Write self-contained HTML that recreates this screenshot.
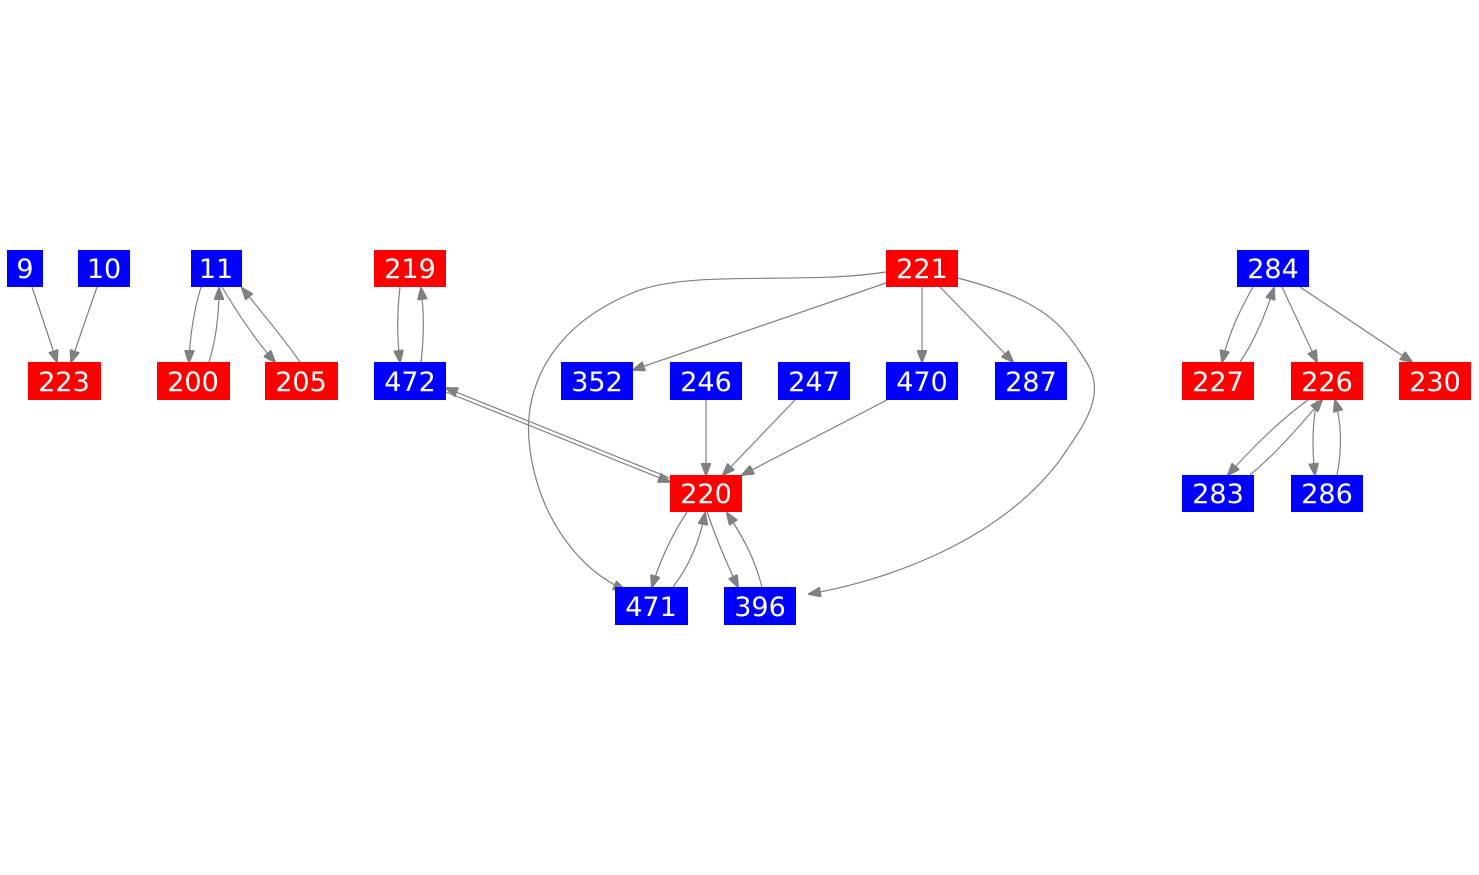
<!DOCTYPE html>
<html><head><style>
html,body{margin:0;padding:0;background:#fff;}
svg{display:block;}
text{font-family:"DejaVu Sans",sans-serif;font-size:27px;fill:#fff;text-anchor:middle;}
path{fill:none;stroke:#808080;stroke-width:1.2;}
</style></head><body>
<svg width="1479" height="875" viewBox="0 0 1479 875">
<defs><marker id="a" markerWidth="13" markerHeight="10" refX="12" refY="5" orient="auto" markerUnits="userSpaceOnUse"><path d="M0,0 L13,5 L0,10 z" style="fill:#808080;stroke:#808080"/></marker></defs>
<g marker-end="url(#a)">
<path d="M32,287 L57,362"/>
<path d="M97,287 L71,362"/>
<path d="M201,287 C194,310 190,335 189,362"/>
<path d="M209,362 C216,340 219,315 219,288"/>
<path d="M222,287 C237,312 255,340 275,362"/>
<path d="M300,362 C285,340 260,310 242,288"/>
<path d="M400,287 C397,312 397,338 400,362"/>
<path d="M421,362 C424,338 424,312 421,288"/>
<path d="M446,392 L670,482"/>
<path d="M670,478 L446,388"/>
<path d="M886,283 L633,370"/>
<path d="M886,272 C800,285 700,270 640,290 C560,320 520,380 530,450 C540,520 580,570 625,590"/>
<path d="M958,278 C1040,300 1060,320 1085,360 C1110,395 1080,430 1060,460 C1000,540 890,580 809,594"/>
<path d="M922,287 L922,362"/>
<path d="M940,287 L1013,362"/>
<path d="M706,400 L706,475"/>
<path d="M795,400 L723,475"/>
<path d="M887,400 L742,475"/>
<path d="M687,512 C672,535 660,560 652,587"/>
<path d="M673,587 C690,565 700,540 705,513"/>
<path d="M707,512 C715,535 725,560 738,587"/>
<path d="M762,587 C755,560 745,540 727,513"/>
<path d="M1253,287 C1240,310 1230,330 1222,362"/>
<path d="M1240,362 C1255,340 1265,315 1274,288"/>
<path d="M1282,287 L1317,362"/>
<path d="M1300,287 L1412,362"/>
<path d="M1308,400 C1280,420 1250,450 1228,475"/>
<path d="M1250,475 C1280,450 1300,425 1322,400"/>
<path d="M1317,400 C1312,425 1312,450 1315,475"/>
<path d="M1337,475 C1342,450 1342,425 1335,400"/>
</g>
<g>
<rect x="7" y="250" width="36" height="37" fill="#00f"/><text x="25" y="278">9</text>
<rect x="78" y="250" width="52" height="37" fill="#00f"/><text x="104" y="278">10</text>
<rect x="191" y="250" width="51" height="37" fill="#00f"/><text x="216" y="278">11</text>
<rect x="374" y="250" width="72" height="37" fill="#f00"/><text x="410" y="278">219</text>
<rect x="886" y="250" width="72" height="37" fill="#f00"/><text x="922" y="278">221</text>
<rect x="1237" y="250" width="72" height="37" fill="#00f"/><text x="1273" y="278">284</text>
<rect x="28" y="362" width="73" height="38" fill="#f00"/><text x="64" y="391">223</text>
<rect x="157" y="362" width="73" height="38" fill="#f00"/><text x="193" y="391">200</text>
<rect x="265" y="362" width="73" height="38" fill="#f00"/><text x="301" y="391">205</text>
<rect x="374" y="362" width="72" height="38" fill="#00f"/><text x="410" y="391">472</text>
<rect x="561" y="362" width="72" height="38" fill="#00f"/><text x="597" y="391">352</text>
<rect x="670" y="362" width="72" height="38" fill="#00f"/><text x="706" y="391">246</text>
<rect x="778" y="362" width="72" height="38" fill="#00f"/><text x="814" y="391">247</text>
<rect x="886" y="362" width="72" height="38" fill="#00f"/><text x="922" y="391">470</text>
<rect x="995" y="362" width="72" height="38" fill="#00f"/><text x="1031" y="391">287</text>
<rect x="1182" y="362" width="72" height="38" fill="#f00"/><text x="1218" y="391">227</text>
<rect x="1291" y="362" width="72" height="38" fill="#f00"/><text x="1327" y="391">226</text>
<rect x="1399" y="362" width="72" height="38" fill="#f00"/><text x="1435" y="391">230</text>
<rect x="670" y="475" width="72" height="37" fill="#f00"/><text x="706" y="503">220</text>
<rect x="1182" y="475" width="72" height="37" fill="#00f"/><text x="1218" y="503">283</text>
<rect x="1291" y="475" width="72" height="37" fill="#00f"/><text x="1327" y="503">286</text>
<rect x="615" y="587" width="73" height="38" fill="#00f"/><text x="651" y="616">471</text>
<rect x="724" y="587" width="72" height="38" fill="#00f"/><text x="760" y="616">396</text>
</g>
</svg>
</body></html>
